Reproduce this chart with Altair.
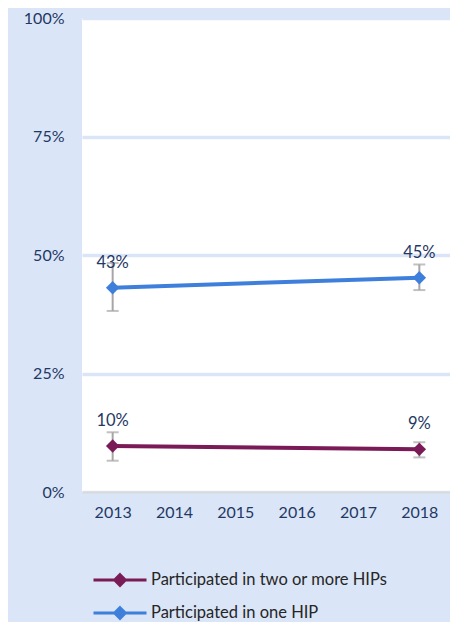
import altair as alt
import pandas as pd

years = ["2013", "2014", "2015", "2016", "2017", "2018"]
series_names = ["Participated in two or more HIPs", "Participated in one HIP"]
colors = ["#7A1A56", "#3E7FDB"]

obs_years = ["2013", "2018"]
two_or_more = [0.097, 0.090]
two_or_more_lo = [0.066, 0.073]
two_or_more_hi = [0.126, 0.105]
one_hip = [0.431, 0.452]
one_hip_lo = [0.382, 0.426]
one_hip_hi = [0.483, 0.480]

rows = []
for name, vals, lo, hi in [
    (series_names[0], two_or_more, two_or_more_lo, two_or_more_hi),
    (series_names[1], one_hip, one_hip_lo, one_hip_hi),
]:
    for y, v, l, h in zip(obs_years, vals, lo, hi):
        rows.append({"year": y, "series": name, "value": v, "lo": l, "hi": h})
df = pd.DataFrame(rows)

NAVY = "#1F3864"
BG = "#DAE5F7"
FONT = "Lato"

x = alt.X("year:O", scale=alt.Scale(domain=years, type="point", padding=0.5),
          axis=alt.Axis(title=None, labelAngle=0, labelFontSize=16, labelColor=NAVY,
                        labelFont=FONT, ticks=False, domainColor="#D9D9D9",
                        domainWidth=2, labelPadding=12, zindex=1, grid=False))
yscale = alt.Scale(domain=[0, 1])

def make_legend():
    return alt.Legend(
        title=None, orient="none", legendX=10, legendY=547, direction="vertical",
        symbolType="M-1,0H1M0,-0.2L0.2,0L0,0.2L-0.2,0Z", symbolSize=2809,
        symbolStrokeWidth=3, clipHeight=30, rowPadding=3, labelOffset=3,
        labelFontSize=16.5, labelFont=FONT, labelColor="#262626", labelLimit=400,
        symbolOpacity=1,
    )

cscale = alt.Scale(domain=series_names, range=colors)

base = alt.Chart(df)

rules = base.mark_rule(color="#A6A6A6", strokeWidth=2).encode(
    x=x,
    y=alt.Y("lo:Q", scale=yscale,
            axis=alt.Axis(title=None, values=[0, 0.25, 0.5, 0.75, 1], format=".0%",
                          labelFontSize=16, labelColor=NAVY, labelFont=FONT,
                          ticks=False, domain=False, gridColor=BG, gridWidth=3.5,
                          labelPadding=18)),
    y2="hi:Q",
)
caps_lo = base.mark_tick(color="#A6A6A6", size=12, thickness=2).encode(
    x=x, y=alt.Y("lo:Q", scale=yscale))
caps_hi = base.mark_tick(color="#A6A6A6", size=12, thickness=2).encode(
    x=x, y=alt.Y("hi:Q", scale=yscale))
lines = base.mark_line(strokeWidth=4).encode(
    x=x, y=alt.Y("value:Q", scale=yscale),
    stroke=alt.Stroke("series:N", scale=cscale, legend=make_legend()))
points = base.mark_point(shape="diamond", filled=True, size=180, opacity=1).encode(
    x=x, y=alt.Y("value:Q", scale=yscale),
    fill=alt.Fill("series:N", scale=cscale, legend=make_legend()))
labels = base.mark_text(dy=-25, fontSize=16.5, font=FONT, color=NAVY).encode(
    x=x, y=alt.Y("value:Q", scale=yscale), text=alt.Text("value:Q", format=".0%"))

chart = alt.layer(rules, caps_lo, caps_hi, lines, points, labels).properties(
    width=368, height=474,
    autosize=alt.AutoSizeParams(type="none"),
    padding={"left": 74, "top": 10, "right": 0, "bottom": 130},
    background=BG,
).configure_view(fill="white", stroke=None)

chart.save("out.html", embed_options={"renderer": "svg", "actions": False})
